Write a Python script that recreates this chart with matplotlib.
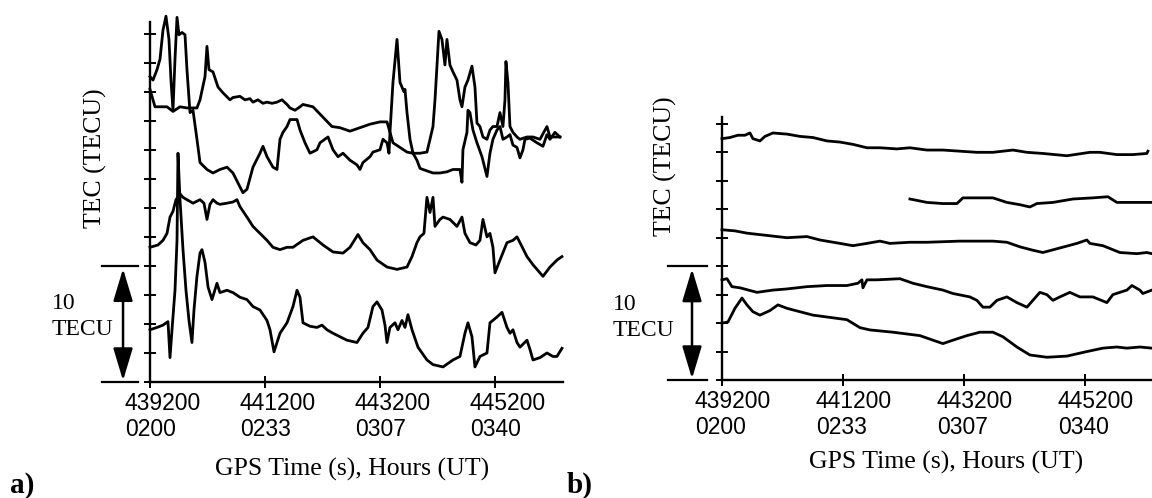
import matplotlib
matplotlib.use('Agg')
import matplotlib.pyplot as plt
from matplotlib.transforms import ScaledTranslation, blended_transform_factory
import numpy as np

plt.rcParams['font.family'] = 'Liberation Serif'

# GPS seconds, start of both panels
t0 = 439200
tick_secs = [439200, 441200, 443200, 445200]
tick_hours = ['0200', '0233', '0307', '0340']

# ---- panel a) : seconds after t0, TEC in TECU (stacked, offset) ----
a_t = [0, 52, 122, 174, 226, 278, 330, 365, 400, 435, 470, 504, 557, 609, 643, 696, 748, 817, 870, 991,
       1096, 1217, 1339, 1443, 1565, 1617, 1687, 1791, 1913, 1965, 2035, 2139, 2209, 2261, 2313, 2383, 2435,
       2557, 2609, 2696, 2783, 2904, 2957, 3096, 3183, 3270, 3357, 3478, 3600, 3652, 3704, 3826, 3878, 4000,
       4052, 4122, 4157, 4174, 4226, 4296, 4348, 4417, 4435, 4470, 4522, 4574, 4643, 4696, 4748, 4922, 5043,
       5165, 5270, 5391, 5426, 5443, 5513, 5530, 5565, 5617, 5687, 5774, 5861, 5913, 5965, 6035, 6087, 6139,
       6209, 6261, 6313, 6383, 6435, 6487, 6522, 6609, 6730, 6835, 6904, 6957, 7043, 7130]
a_tec = [26.3, 26.0, 26.9, 27.8, 30.3, 31.5, 29.5, 26.0, 23.4, 27.8, 31.4, 29.9, 30.1, 29.9, 26.9, 23.2, 23.4,
         20.9, 18.9, 18.3, 18.0, 18.3, 18.5, 18.0, 16.8, 16.3, 16.6, 18.5, 19.7, 20.3, 19.4, 18.5, 18.3, 20.9,
         21.5, 22.0, 22.6, 22.6, 21.7, 20.6, 19.7, 20.0, 20.6, 21.1, 20.0, 19.4, 19.7, 19.1, 18.7, 18.3, 18.9,
         19.4, 19.8, 20.0, 20.9, 20.6, 19.7, 21.5, 25.8, 29.5, 25.8, 25.0, 25.2, 23.2, 20.9, 19.7, 19.1, 18.4,
         18.3, 18.0, 18.0, 18.1, 18.3, 18.3, 17.2, 20.0, 21.5, 23.4, 23.2, 21.7, 20.6, 19.4, 17.7, 19.7, 20.9,
         21.7, 22.0, 20.9, 21.1, 21.3, 20.4, 20.2, 19.3, 20.0, 20.9, 21.0, 20.6, 20.3, 21.3, 20.9, 21.5, 21.1]

b_t = [0, 87, 174, 296, 400, 522, 643, 730, 817, 870, 957, 991, 1026, 1096, 1183, 1270, 1391, 1443, 1565, 1652,
       1739, 1791, 1878, 1965, 2035, 2122, 2209, 2296, 2383, 2435, 2522, 2609, 2661, 2835, 3009, 3165, 3304,
       3478, 3652, 3826, 4000, 4122, 4174, 4226, 4348, 4470, 4574, 4696, 4817, 4870, 4922, 4957, 4991, 5026,
       5078, 5130, 5165, 5217, 5270, 5339, 5391, 5426, 5478, 5530, 5600, 5652, 5687, 5739, 5791, 5861, 5913,
       5965, 6035, 6087, 6139, 6174, 6191, 6226, 6261, 6313, 6383, 6435, 6557, 6661, 6783, 6904, 6957, 7078,
       7130]
b_tec = [25.2, 23.7, 23.7, 23.7, 23.3, 23.7, 23.6, 23.6, 23.6, 24.3, 26.3, 28.9, 26.9, 26.7, 25.4, 24.9, 24.3,
         24.5, 24.6, 24.3, 24.4, 24.1, 24.3, 24.0, 24.1, 24.0, 24.1, 24.3, 23.9, 23.6, 23.4, 23.7, 23.9, 23.7,
         22.8, 22.0, 21.9, 21.6, 21.9, 22.2, 22.4, 22.4, 21.5, 20.6, 20.2, 19.8, 19.7, 19.7, 19.8, 20.9, 22.0,
         24.3, 27.2, 30.2, 29.5, 27.3, 29.5, 27.3, 26.7, 26.0, 24.3, 23.7, 25.4, 26.0, 27.2, 25.4, 22.3, 22.0,
         21.1, 20.9, 21.7, 22.0, 22.0, 23.2, 22.0, 24.3, 27.6, 25.8, 22.0, 21.5, 21.1, 20.9, 21.1, 21.1, 20.9,
         22.0, 21.1, 21.1, 21.1]

c_t = [0, 139, 226, 296, 348, 400, 452, 522, 574, 643, 748, 870, 939, 991, 1043, 1096, 1165, 1217, 1339, 1443,
       1513, 1565, 1687, 1791, 1913, 2035, 2139, 2261, 2383, 2487, 2661, 2835, 3009, 3183, 3357, 3478, 3617,
       3704, 3826, 3948, 4122, 4296, 4470, 4557, 4643, 4696, 4765, 4817, 4870, 4922, 4957, 5043, 5096, 5217,
       5339, 5426, 5478, 5565, 5670, 5739, 5791, 5861, 5913, 5965, 6000, 6087, 6209, 6313, 6383, 6435, 6557,
       6661, 6835, 6957, 7078, 7165]
c_tec = [11.6, 11.8, 12.2, 12.8, 14.2, 14.7, 15.7, 16.2, 15.9, 15.7, 15.4, 15.7, 15.4, 14.0, 15.3, 15.7, 15.4,
         15.3, 15.4, 15.5, 15.7, 15.1, 14.2, 13.4, 12.8, 12.2, 11.6, 11.4, 11.6, 11.6, 12.2, 12.5, 11.8, 11.2,
         11.1, 11.6, 12.7, 12.0, 11.4, 10.5, 9.9, 9.7, 9.9, 10.8, 12.0, 12.5, 12.8, 15.9, 14.6, 15.9, 13.4,
         14.0, 14.2, 14.0, 13.4, 14.2, 12.8, 12.0, 11.8, 12.2, 14.0, 12.5, 12.8, 11.6, 9.4, 10.5, 12.0, 12.2,
         12.5, 12.0, 10.8, 10.1, 9.1, 9.9, 10.5, 10.8]

d_t = [0, 122, 226, 313, 348, 383, 435, 470, 487, 522, 574, 626, 678, 730, 765, 817, 870, 904, 957, 1009, 1078,
       1165, 1217, 1339, 1443, 1565, 1687, 1791, 1913, 2035, 2087, 2157, 2261, 2383, 2487, 2557, 2609, 2661,
       2783, 2904, 2991, 3078, 3183, 3304, 3426, 3600, 3704, 3791, 3878, 3948, 4035, 4087, 4122, 4174, 4261,
       4313, 4383, 4435, 4487, 4557, 4661, 4817, 4922, 5096, 5270, 5391, 5478, 5530, 5600, 5652, 5739, 5861,
       5913, 6035, 6122, 6209, 6261, 6313, 6383, 6435, 6557, 6609, 6661, 6783, 6904, 7009, 7078, 7165]
d_tec = [4.5, 4.7, 4.9, 5.2, 2.1, 4.5, 7.9, 12.2, 19.7, 15.7, 11.4, 7.9, 5.3, 3.4, 6.2, 9.1, 11.1, 11.4, 10.3,
         8.2, 7.1, 8.5, 7.7, 7.9, 7.7, 7.3, 7.1, 6.5, 6.2, 5.3, 4.5, 2.6, 4.2, 5.1, 6.5, 7.9, 7.3, 5.1, 4.8, 4.7,
         4.9, 4.5, 4.2, 3.9, 3.6, 3.4, 4.2, 4.7, 6.5, 6.9, 6.2, 4.9, 3.4, 4.7, 5.1, 4.5, 5.3, 4.7, 5.8, 4.5,
         3.0, 1.9, 1.5, 1.3, 1.9, 2.2, 4.2, 5.1, 3.9, 1.3, 2.2, 2.5, 5.1, 5.6, 6.0, 4.7, 4.2, 4.5, 3.4, 3.0,
         3.6, 2.8, 1.9, 2.1, 2.5, 2.2, 2.2, 2.9]

# ---- panel b) ----
r1_t = [0, 132, 264, 380, 463, 512, 628, 711, 843, 1074, 1289, 1504, 1736, 1951, 2165, 2397, 2612, 2893, 3108,
        3389, 3653, 3934, 4215, 4480, 4810, 5042, 5306, 5703, 6083, 6248, 6529, 6794, 7025, 7042]
r1_tec = [21.2, 21.3, 21.5, 21.5, 21.7, 21.2, 21.0, 21.4, 21.7, 21.6, 21.4, 21.3, 21.0, 20.9, 20.7, 20.4, 20.4,
          20.3, 20.4, 20.2, 20.2, 20.1, 20.0, 20.0, 20.2, 20.0, 19.9, 19.7, 20.0, 20.0, 19.8, 19.8, 19.9, 20.1]

r2_t = [3108, 3389, 3653, 3885, 3984, 4314, 4480, 4711, 4926, 5091, 5207, 5471, 5802, 6133, 6381, 6529, 6794, 7108]
r2_tec = [15.9, 15.6, 15.5, 15.5, 16.0, 16.0, 16.0, 15.6, 15.4, 15.2, 15.5, 15.6, 15.9, 16.0, 16.1, 15.6, 15.6, 15.6]

r3_t = [0, 215, 413, 744, 1074, 1405, 1620, 1951, 2165, 2397, 2612, 2777, 3108, 3389, 3934, 4480, 4711, 4926,
        5141, 5306, 5587, 5868, 6033, 6083, 6298, 6579, 6860, 7025, 7108]
r3_tec = [13.2, 13.1, 12.9, 12.7, 12.5, 12.6, 12.3, 12.0, 11.8, 12.0, 12.2, 12.0, 12.1, 12.1, 12.2, 12.2, 12.1,
          11.7, 11.4, 11.2, 11.6, 12.0, 12.3, 12.0, 11.8, 11.2, 11.1, 11.2, 11.1]

r4_t = [0, 83, 165, 298, 579, 843, 1074, 1405, 1736, 2066, 2248, 2314, 2331, 2397, 2562, 2942, 3157, 3389, 3653,
        3818, 4099, 4215, 4314, 4430, 4546, 4711, 4876, 5042, 5141, 5256, 5372, 5471, 5587, 5752, 5918, 6133,
        6364, 6463, 6695, 6778, 6909, 6959, 7108]
r4_tec = [8.8, 8.9, 8.2, 8.1, 7.7, 7.9, 8.0, 8.2, 8.3, 8.3, 8.5, 8.8, 8.1, 8.8, 8.8, 8.9, 8.5, 8.2, 7.9, 7.6,
          7.3, 7.0, 6.4, 6.4, 7.0, 7.3, 6.8, 6.4, 7.0, 7.7, 7.5, 7.0, 7.3, 7.7, 7.3, 7.3, 6.8, 7.5, 7.9, 8.3,
          7.9, 7.6, 7.9]

r5_t = [0, 99, 215, 331, 413, 512, 628, 793, 926, 1074, 1289, 1504, 1785, 2066, 2281, 2446, 2827, 3273, 3488,
        3653, 3818, 4050, 4265, 4480, 4645, 4876, 5091, 5372, 5703, 6033, 6298, 6529, 6695, 6909, 7108]
r5_tec = [5.0, 5.1, 6.3, 7.2, 6.6, 6.0, 5.7, 6.1, 6.6, 6.3, 6.0, 5.7, 5.5, 5.3, 4.6, 4.4, 4.2, 3.9, 3.5, 3.2,
          3.5, 3.9, 4.2, 4.2, 3.8, 2.9, 2.2, 2.0, 2.1, 2.5, 2.8, 2.9, 2.8, 2.9, 2.8]

scale_tecu = 10

fig = plt.figure(figsize=(11.52, 4.98), dpi=100)
ax1 = fig.add_axes([0.1302, 0.2329, 0.3585, 0.7229])
ax2 = fig.add_axes([0.6267, 0.2369, 0.3733, 0.5281])


def setup(ax, ytop, xright, label_shift):
    ax.spines['top'].set_visible(False)
    ax.spines['right'].set_visible(False)
    ax.spines['left'].set_linewidth(1.7)
    ax.spines['bottom'].set_linewidth(1.7)
    ax.set_xlim(t0, xright)
    ax.set_ylim(0, ytop)
    ax.set_yticks(np.arange(0, ytop, 2.5))
    ax.set_yticklabels([])
    ax.set_xticks(tick_secs, [str(s) + '\n' + h for s, h in zip(tick_secs, tick_hours)])
    ax.tick_params(direction='inout', length=8, width=1.4, labelsize=16.5, pad=3)
    shift = ScaledTranslation(-label_shift / 100, 0, fig.dpi_scale_trans)
    for lab in ax.get_xticklabels():
        lab.set_fontfamily('Liberation Sans')
        lab.set_horizontalalignment('left')
        lab.set_multialignment('left')
        lab.set_transform(lab.get_transform() + shift)


def scale_bar(ax, x0, x1, xa):
    tr = blended_transform_factory(fig.transFigure, ax.transData)
    ax.plot([x0, x1], [scale_tecu, scale_tecu], color='k', lw=1.6, transform=tr, clip_on=False)
    ax.plot([x0, x1], [0, 0], color='k', lw=1.6, transform=tr, clip_on=False)
    ax.annotate('', xy=(xa, scale_tecu), xytext=(xa, 0), xycoords=tr, textcoords=tr,
                arrowprops=dict(arrowstyle='<|-|>,head_length=1.0,head_width=0.3', mutation_scale=20,
                                color='k', lw=1.8, shrinkA=1, shrinkB=2),
                annotation_clip=False)


setup(ax1, 31, t0 + 7183, 25)
setup(ax2, 23.1, t0 + 7110, 27)

for t, v in [(a_t, a_tec), (b_t, b_tec), (c_t, c_tec), (d_t, d_tec)]:
    ax1.plot(t0 + np.array(t), v, color='k', lw=2.0, clip_on=False)
for t, v in [(r1_t, r1_tec), (r2_t, r2_tec), (r3_t, r3_tec), (r4_t, r4_tec), (r5_t, r5_tec)]:
    ax2.plot(t0 + np.array(t), v, color='k', lw=2.0, clip_on=False)

scale_bar(ax1, 0.0885, 0.1198, 0.1068)
scale_bar(ax2, 0.5799, 0.6137, 0.6007)

fig.text(0.0825, 0.6827, 'TEC (TECU)', rotation=90, ha='center', va='center', fontsize=18.5)
fig.text(0.5773, 0.6667, 'TEC (TECU)', rotation=90, ha='center', va='center', fontsize=18.5)
fig.text(0.0451, 0.3645, '10\nTECU', ha='left', va='center', fontsize=17, linespacing=1.3)
fig.text(0.5321, 0.3624, '10\nTECU', ha='left', va='center', fontsize=17, linespacing=1.3)
fig.text(0.3056, 0.0582, 'GPS Time (s), Hours (UT)', ha='center', va='center', fontsize=18.5)
fig.text(0.8212, 0.0723, 'GPS Time (s), Hours (UT)', ha='center', va='center', fontsize=18.5)
fig.text(0.0087, 0.010, 'a)', ha='left', va='baseline', fontsize=21, fontweight='bold')
fig.text(0.4922, 0.010, 'b)', ha='left', va='baseline', fontsize=21, fontweight='bold')

fig.savefig('out.png', dpi=100)
